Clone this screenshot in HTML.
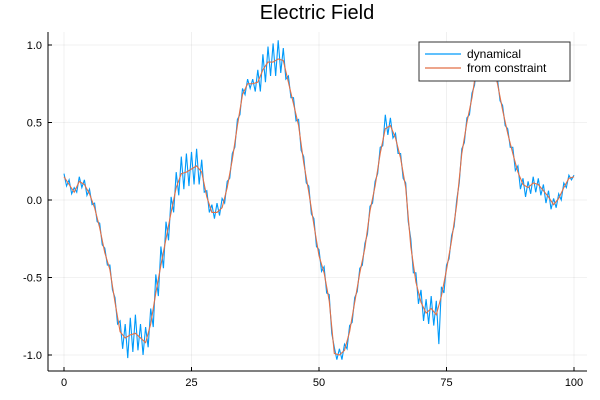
<!DOCTYPE html>
<html><head><meta charset="utf-8"><style>
html,body{margin:0;padding:0;background:#fff;}
svg{display:block;font-family:"Liberation Sans",sans-serif;}
</style></head><body>
<svg id="chart" width="600" height="400">
<text x="317" y="19" text-anchor="middle" font-size="20" fill="#000">Electric Field</text>
<g id="grid"></g>
<g id="axes"></g>
<g id="series"></g>
<g>
<rect x="419" y="42" width="151" height="39" fill="#fff" stroke="#333" stroke-width="1"/>
<line x1="425" y1="54" x2="461" y2="54" stroke="#009AFA" stroke-width="1.2"/>
<text x="467" y="58" font-size="12" fill="#000">dynamical</text>
<line x1="425" y1="68" x2="461" y2="68" stroke="#E26F46" stroke-width="1.2"/>
<text x="467" y="72" font-size="12" fill="#000">from constraint</text>
</g>
</svg>
<script>
const xTicks = [0, 25, 50, 75, 100];
const yTicks = [-1.0, -0.5, 0.0, 0.5, 1.0];
const yTickLabels = ["-1.0", "-0.5", "0.0", "0.5", "1.0"];
const constraintX0 = 0;
const constraintStep = 1;
const constraintValues = [0.15,0.10,0.05,0.12,0.10,0.04,-0.05,-0.18,-0.34,-0.45,-0.66,-0.85,-0.89,-0.87,-0.86,-0.89,-0.92,-0.80,-0.60,-0.42,-0.25,-0.08,0.08,0.17,0.18,0.20,0.22,0.18,0.02,-0.08,-0.08,-0.05,0.08,0.26,0.48,0.68,0.75,0.75,0.76,0.84,0.89,0.89,0.91,0.90,0.76,0.62,0.48,0.24,0.05,-0.16,-0.36,-0.47,-0.65,-0.99,-1.0,-0.97,-0.85,-0.66,-0.47,-0.31,-0.07,0.09,0.30,0.46,0.48,0.40,0.27,0.08,-0.30,-0.53,-0.66,-0.73,-0.70,-0.74,-0.62,-0.45,-0.26,-0.03,0.30,0.50,0.66,0.88,0.96,0.97,0.88,0.75,0.58,0.43,0.30,0.18,0.10,0.08,0.11,0.10,0.06,0.02,-0.03,0.01,0.08,0.14,0.15];
const dynamicalX0 = 0;
const dynamicalStep = 0.5;
const dynamicalValues = [0.17,0.09,0.13,0.04,0.08,0.05,0.15,0.08,0.13,0.03,0.07,-0.03,-0.02,-0.14,-0.15,-0.29,-0.31,-0.42,-0.42,-0.58,-0.63,-0.80,-0.78,-0.96,-0.80,-1.02,-0.76,-0.98,-0.74,-0.97,-0.80,-1.0,-0.82,-0.95,-0.70,-0.82,-0.48,-0.62,-0.30,-0.44,-0.14,-0.26,0.02,-0.08,0.18,0.03,0.28,0.07,0.30,0.09,0.31,0.10,0.33,0.10,0.26,0.05,0.06,-0.08,-0.03,-0.12,-0.02,-0.10,0.01,-0.02,0.12,0.14,0.30,0.34,0.52,0.55,0.72,0.68,0.78,0.72,0.78,0.70,0.84,0.70,0.94,0.76,0.99,0.80,1.01,0.80,1.03,0.82,0.98,0.78,0.80,0.66,0.66,0.51,0.52,0.32,0.28,0.11,0.09,-0.09,-0.12,-0.30,-0.32,-0.46,-0.43,-0.60,-0.61,-0.86,-0.95,-1.03,-0.96,-1.03,-0.93,-0.96,-0.81,-0.79,-0.63,-0.59,-0.44,-0.42,-0.28,-0.22,-0.04,-0.02,0.12,0.17,0.34,0.35,0.55,0.42,0.53,0.40,0.43,0.30,0.30,0.14,0.11,-0.14,-0.25,-0.47,-0.47,-0.67,-0.58,-0.78,-0.64,-0.80,-0.62,-0.81,-0.65,-0.93,-0.56,-0.60,-0.42,-0.38,-0.23,-0.17,0.00,0.11,0.33,0.37,0.53,0.55,0.69,0.74,0.91,0.89,0.99,0.93,1.0,0.90,0.91,0.79,0.78,0.64,0.61,0.48,0.46,0.34,0.34,0.19,0.22,0.07,0.14,0.02,0.12,0.04,0.15,0.05,0.14,0.03,0.10,-0.02,0.06,-0.06,0.01,-0.05,0.04,0.00,0.11,0.08,0.16,0.13,0.16];

const NS = "http://www.w3.org/2000/svg";
const L = 48, R = 587, T = 32, B = 371;
function xScale(v){ return 64 + (v - 0) * (574 - 64) / 100; }
function yScale(v){ return 200 - v * 155; }
function mk(tag, attrs, parent){ const e = document.createElementNS(NS, tag); for (const k in attrs) e.setAttribute(k, attrs[k]); parent.appendChild(e); return e; }
const grid = document.getElementById('grid');
const axes = document.getElementById('axes');
const series = document.getElementById('series');

xTicks.forEach(t => {
  const g = mk('line', {x1: xScale(t), x2: xScale(t), y1: T, y2: B, stroke: '#000', 'stroke-opacity': 0.1, 'stroke-width': 0.6}, grid);
  
  
  const tk = mk('line', {x1: xScale(t), x2: xScale(t), y1: B, y2: B - 4, stroke: '#000', 'stroke-width': 1}, axes);
  
  
  const lb = mk('text', {x: xScale(t), y: B + 15, 'text-anchor': 'middle', 'font-size': 11, fill: '#000'}, axes);
  lb.textContent = String(t);
  
  
});
yTicks.forEach((t, i) => {
  const g = mk('line', {x1: L, x2: R, y1: yScale(t), y2: yScale(t), stroke: '#000', 'stroke-opacity': 0.1, 'stroke-width': 0.6}, grid);
  
  
  const tk = mk('line', {x1: L, x2: L + 4, y1: yScale(t), y2: yScale(t), stroke: '#000', 'stroke-width': 1}, axes);
  
  
  const lb = mk('text', {x: L - 6, y: yScale(t) + 4, 'text-anchor': 'end', 'font-size': 11, fill: '#000'}, axes);
  lb.textContent = yTickLabels[i];
  
  
});
const xa = mk('line', {x1: L, x2: R, y1: B, y2: B, stroke: '#000', 'stroke-width': 1}, axes);


const ya = mk('line', {x1: L, x2: L, y1: T, y2: B, stroke: '#000', 'stroke-width': 1}, axes);



function pathFrom(vals, x0, step){ return vals.map((v, i) => (i ? 'L' : 'M') + xScale(x0 + i * step).toFixed(2) + ',' + yScale(v).toFixed(2)).join(''); }
const p1 = mk('path', {d: pathFrom(dynamicalValues, dynamicalX0, dynamicalStep), fill: 'none', stroke: '#009AFA', 'stroke-width': 1.1}, series);


const p2 = mk('path', {d: pathFrom(constraintValues, constraintX0, constraintStep), fill: 'none', stroke: '#E26F46', 'stroke-width': 1.1}, series);


</script>
</body></html>
